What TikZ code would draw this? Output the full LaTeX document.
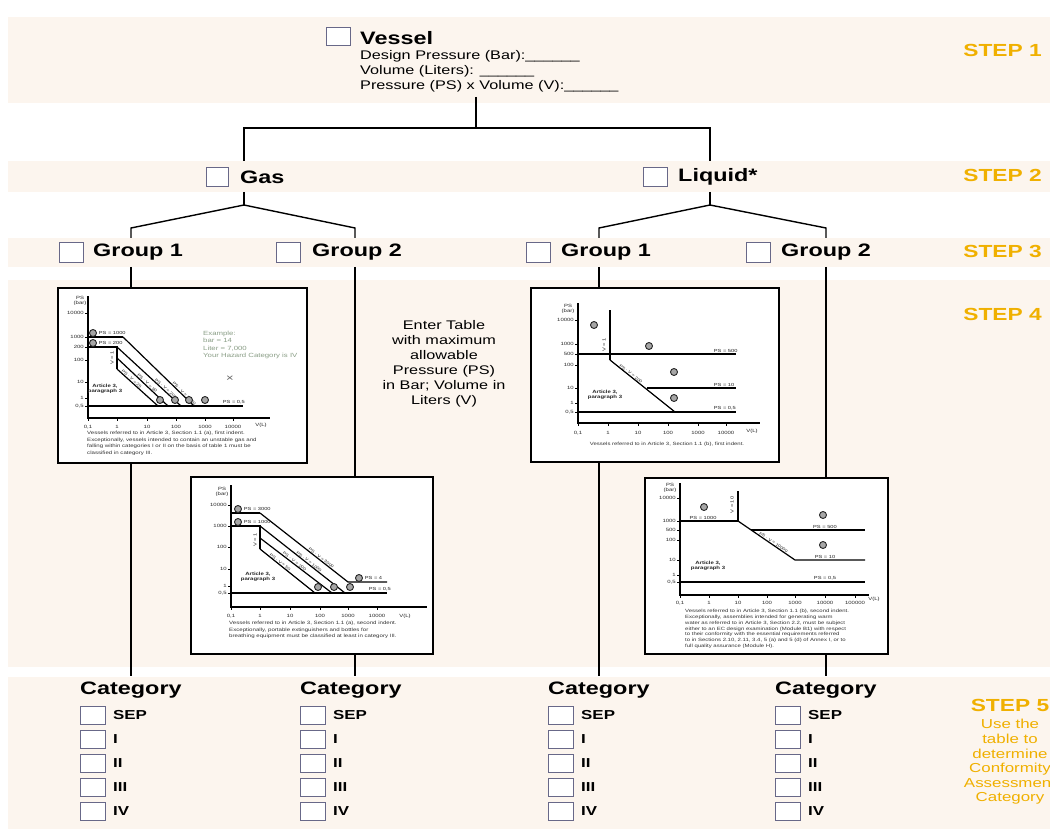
\documentclass[tikz,border=0pt]{standalone}
\usepackage{fontspec}
\setmainfont{Liberation Sans}[FakeStretch=1.3]
\definecolor{bandcol}{RGB}{252,245,238}
\definecolor{stepcol}{RGB}{240,176,0}
\definecolor{cbcol}{RGB}{104,104,136}
\definecolor{excol}{RGB}{138,158,134}
\newcommand\fsz[1]{\fontsize{#1}{#1}\selectfont}
\begin{document}
\begin{tikzpicture}[x=1pt,y=-1pt,
  cbox/.style={draw=cbcol, line width=0.8pt, fill=white, minimum width=24pt, minimum height=19pt, inner sep=0pt},
  catbox/.style={cbox, minimum width=25pt, minimum height=18pt},
  stepl/.style={text=stepcol, font=\bfseries\fsz{17.5}, anchor=east, inner sep=0pt},
  head/.style={font=\bfseries\fsz{18}, anchor=west, inner sep=0pt},
  info/.style={font=\fsz{12.5}, anchor=west, inner sep=0pt},
  catl/.style={font=\bfseries\fsz{13}, anchor=west, inner sep=0pt},
  stem/.style={line width=2.4pt},
  branch/.style={line width=1.4pt},
  chartbox/.style={draw, line width=2.4pt, fill=white, inner sep=0pt},
  axl/.style={line width=1.3pt},
  cl/.style={line width=1.2pt},
  tk/.style={font=\fsz{4.6}, inner sep=0pt, text=black!85},
  lab/.style={font=\fsz{4.4}, inner sep=0.6pt, text=black!85},
  dlab/.style={font=\fsz{3.8}, inner sep=0.4pt, text=black!85, sloped, above},
  art/.style={font=\bfseries\fontsize{4.6}{5.4}\selectfont, inner sep=0pt, align=center, text=black!85},
  captxt/.style={font=\fontsize{4.7}{6.6}\selectfont, inner sep=0pt, text=black!80, align=left, anchor=north west},
  mk/.style={circle, draw=black!85, line width=0.9pt, fill=black!35, minimum size=7pt, inner sep=0pt}]
\useasboundingbox (0,0) rectangle (1050,829);
\clip (0,0) rectangle (1050,829);
\fill[white] (0,0) rectangle (1050,829);
% bands
\fill[bandcol] (8,17) rectangle (1050,103);
\fill[bandcol] (8,161) rectangle (1050,192);
\fill[bandcol] (8,238) rectangle (1050,267);
\fill[bandcol] (8,280) rectangle (1050,667);
\fill[bandcol] (8,677) rectangle (1050,829);

% step labels
\node[stepl] (s1) at (1042,50) {STEP 1};
\node[stepl] (s2) at (1042,175) {STEP 2};
\node[stepl] (s3) at (1042,251) {STEP 3};
\node[stepl] (s4) at (1042,314) {STEP 4};
\node[stepl, anchor=center] (s5) at (1010,705) {STEP 5};
\node[font=\fontsize{13}{14.6}\selectfont, text=stepcol, align=center, inner sep=0pt] (s5t) at (1010,762)
  {Use the\\table to\\determine\\Conformity\\Assessment\\Category};

% step 1
\node[cbox, minimum height=18pt] (vcb) at (338,36) {};
\node[head] (vessel) at (360,38) {Vessel};
\node[info] (dp) at (360,56) {Design Pressure (Bar):\_\_\_\_\_\_};
\node[info] (vol) at (360,71) {Volume (Liters): \_\_\_\_\_\_};
\node[info] (psv) at (360,86) {Pressure (PS) x Volume (V):\_\_\_\_\_\_};

% coordinates of the tree
\coordinate (vs) at (476,97);
\coordinate (vj) at (476,128);
\coordinate (gtop) at (244,161);
\coordinate (gbot) at (244,192);
\coordinate (gj) at (244,205);
\coordinate (gd1) at (131,228);
\coordinate (g1top) at (131,238);
\coordinate (gd2) at (355,228);
\coordinate (g2top) at (355,238);
\coordinate (ltop) at (710,161);
\coordinate (lbot) at (710,192);
\coordinate (lj) at (710,205);
\coordinate (ld1) at (599,228);
\coordinate (l1top) at (599,238);
\coordinate (ld2) at (826,228);
\coordinate (l2top) at (826,238);
\coordinate (g1bot) at (131,267);
\coordinate (g2bot) at (355,267);
\coordinate (l1bot) at (599,267);
\coordinate (l2bot) at (826,267);
\coordinate (ca) at (131,676);
\coordinate (cb) at (355,676);
\coordinate (cc) at (599,676);
\coordinate (cd) at (826,676);

\draw[stem] (vs) -- (vj);
\draw[line width=2pt] (gtop) -- (gtop |- vj) -- (ltop |- vj) -- (ltop);
\draw[branch] (gbot) -- (gj);
\draw[branch] (g1top) -- (gd1) -- (gj) -- (gd2) -- (g2top);
\draw[branch] (lbot) -- (lj);
\draw[branch] (l1top) -- (ld1) -- (lj) -- (ld2) -- (l2top);

% step 2
\node[cbox, minimum width=22pt] (gascb) at (217,176.5) {};
\node[head] (gas) at (240,177) {Gas};
\node[cbox] (liqcb) at (655,176.5) {};
\node[head] (liquid) at (678,177) {Liquid*};

% step 3
\node[cbox, minimum height=20pt] (g1cb) at (71,252) {};
\node[head] (g1) at (93,252) {Group 1};
\node[cbox, minimum height=20pt] (g2cb) at (288.5,252) {};
\node[head] (g2) at (312,252) {Group 2};
\node[cbox, minimum height=20pt] (l1cb) at (538,252) {};
\node[head] (l1) at (561,252) {Group 1};
\node[cbox, minimum height=20pt] (l2cb) at (758,252) {};
\node[head] (l2) at (781,252) {Group 2};

% chart boxes (positions)
\path (182.5,375.5) node[minimum width=249pt, minimum height=175pt, inner sep=0pt] (chartA) {};
\path (312,565.5) node[minimum width=242pt, minimum height=177pt, inner sep=0pt] (chartB) {};
\path (655,375) node[minimum width=248pt, minimum height=174pt, inner sep=0pt] (chartC) {};
\path (766.5,566) node[minimum width=243pt, minimum height=176pt, inner sep=0pt] (chartD) {};

% stems
\draw[stem] (g1bot) -- (g1bot |- chartA.north);
\draw[stem] (g1bot |- chartA.south) -- (ca);
\draw[stem] (g2bot) -- (g2bot |- chartB.north);
\draw[stem] (g2bot |- chartB.south) -- (cb);
\draw[stem] (l1bot) -- (l1bot |- chartC.north);
\draw[stem] (l1bot |- chartC.south) -- (cc);
\draw[stem] (l2bot) -- (l2bot |- chartD.north);
\draw[stem] (l2bot |- chartD.south) -- (cd);

% boxes drawn
\draw[chartbox] (chartA.north west) rectangle (chartA.south east);
\draw[chartbox] (chartB.north west) rectangle (chartB.south east);
\draw[chartbox] (chartC.north west) rectangle (chartC.south east);
\draw[chartbox] (chartD.north west) rectangle (chartD.south east);

% middle text
\node[font=\fontsize{12.5}{15}\selectfont, align=center, inner sep=0pt] (enter) at (444,364)
  {Enter Table\\with maximum\\allowable\\Pressure (PS)\\in Bar; Volume in\\Liters (V)};

% ---------- chart A ----------
\draw[axl] (88,296) -- (88,418) -- (270,418);
\foreach \v/\y in {10000/313,1000/337,200/347,100/360,10/382,1/398,0{,}5/406}
  {\draw[line width=0.8pt] (85,\y) -- (88,\y); \node[tk, anchor=east] at (84,\y) {\v};}
\foreach \v/\x in {0{,}1/88,1/117,10/147,100/176,1000/205,10000/233}
  {\draw[line width=0.8pt] (\x,418) -- (\x,421); \node[tk] at (\x,427) {\v};}
\node[tk] (aV) at (261,425) {V(L)};
\node[tk, align=center] (aPS) at (80,301) {PS\\(bar)};
\draw[cl] (88,337) -- (123,337);
\draw[cl] (123,337) -- node[dlab, pos=0.84] {PS · V = 1000} (194,406);
\draw[cl] (88,347) -- (117,347) -- (117,369);
\draw[cl] (117,347) -- node[dlab, pos=0.74] {PS · V = 200} (181,406);
\draw[cl] (117,358) -- node[dlab, pos=0.56] {PS · V = 50} (168,406);
\draw[cl] (117,369) -- node[dlab, pos=0.32] {PS · V = 25} (158,406);
\draw[cl] (88,406) -- (243,406);
\node[mk] (am1) at (93,333) {};
\node[lab, anchor=west] (aps1) at (98,333) {PS = 1000};
\node[mk] (am2) at (93,343) {};
\node[lab, anchor=west] (aps2) at (98,343) {PS = 200};
\foreach \x in {160,175,189,205} \node[mk] at (\x,400) {};
\node[lab, anchor=south west] (aps3) at (222,405) {PS = 0,5};
\node[lab, rotate=90] (av1) at (112,358) {V = 1};
\node[art] (aart) at (105,389) {Article 3,\\paragraph 3};
\node[font=\fontsize{6}{7.4}\selectfont, text=excol, anchor=north west, align=left, inner sep=0pt] (aex) at (203,331)
  {Example:\\bar = 14\\Liter = 7,000\\Your Hazard Category is IV};
\node[font=\fsz{10}, text=black!60, inner sep=0pt] (axmark) at (230,379) {×};
\node[captxt] (acap) at (87,431) {Vessels referred to in Article 3, Section 1.1 (a), first indent.\\Exceptionally, vessels intended to contain an unstable gas and\\falling within categories I or II on the basis of table 1 must be\\classified in category III.};

% ---------- chart B ----------
\draw[axl] (231,485) -- (231,607) -- (427,607);
\foreach \v/\y in {10000/505,1000/526,100/547,10/569,1/586,0{,}5/593}
  {\draw[line width=0.8pt] (228,\y) -- (231,\y); \node[tk, anchor=east] at (227,\y) {\v};}
\foreach \v/\x in {0{,}1/231,1/260,10/290,100/320,1000/348,10000/377}
  {\draw[line width=0.8pt] (\x,607) -- (\x,610); \node[tk] at (\x,616) {\v};}
\node[tk] (bV) at (405,616) {V(L)};
\node[tk, align=center] (bPS) at (222,492) {PS\\(bar)};
\draw[cl] (231,513) -- (260,513);
\draw[cl] (260,513) -- node[dlab, pos=0.68] {PS · V = 3000} (348,582) -- (387,582);
\draw[cl] (231,526) -- (260,526) -- (260,549);
\draw[cl] (260,526) -- node[dlab, pos=0.56] {PS · V = 1000} (345,593);
\draw[cl] (260,538) -- node[dlab, pos=0.46] {PS · V = 200} (332,593);
\draw[cl] (260,549) -- node[dlab, pos=0.34] {PS · V = 50} (315,593);
\draw[cl] (231,593) -- (387,593);
\node[mk] (bm1) at (238,509) {};
\node[lab, anchor=west] (bps1) at (243,509) {PS = 3000};
\node[mk] (bm2) at (238,522) {};
\node[lab, anchor=west] (bps2) at (243,522) {PS = 1000};
\node[mk] (bm3) at (359,578) {};
\node[lab, anchor=west] (bps3) at (364,578) {PS = 4};
\node[lab, anchor=south west] (bps4) at (368,592) {PS = 0,5};
\foreach \x in {318,334,350} \node[mk] at (\x,587) {};
\node[lab, rotate=90] (bv1) at (255,540) {V = 1};
\node[art] (bart) at (258,577) {Article 3,\\paragraph 3};
\node[captxt] (bcap) at (229,621) {Vessels referred to in Article 3, Section 1.1 (a), second indent.\\Exceptionally, portable extinguishers and bottles for\\breathing equipment must be classified at least in category III.};

% ---------- chart C ----------
\draw[axl] (578,303) -- (578,423) -- (760,423);
\foreach \v/\y in {10000/320,1000/344,500/354,100/365,10/388,1/403,0{,}5/412}
  {\draw[line width=0.8pt] (575,\y) -- (578,\y); \node[tk, anchor=east] at (574,\y) {\v};}
\foreach \v/\x in {0{,}1/578,1/608,10/638,100/668,1000/698,10000/726}
  {\draw[line width=0.8pt] (\x,423) -- (\x,426); \node[tk] at (\x,433) {\v};}
\node[tk] (cV) at (752,431) {V(L)};
\node[tk, align=center] (cPS) at (568,309) {PS\\(bar)};
\draw[cl] (610,310) -- (610,360);
\draw[cl] (578,354) -- (736,354);
\draw[cl] (610,360) -- node[dlab, pos=0.3] {PS · V = 200} (675,412);
\draw[cl] (647,388) -- (736,388);
\draw[cl] (578,412) -- (736,412);
\node[lab, anchor=south west] (cps1) at (713,353) {PS = 500};
\node[lab, anchor=south west] (cps2) at (713,387) {PS = 10};
\node[lab, anchor=south west] (cps3) at (713,411) {PS = 0,5};
\node[lab, rotate=90] (cv1) at (604,345) {V = 1};
\node[mk] (cm1) at (594,325) {};
\node[mk] (cm2) at (649,346) {};
\node[mk] (cm3) at (674,372) {};
\node[mk] (cm4) at (674,398) {};
\node[art] (cart) at (605,395) {Article 3,\\paragraph 3};
\node[font=\fsz{4.6}, text=black!80, inner sep=0pt] (ccap) at (667,444) {Vessels referred to in Article 3, Section 1.1 (b), first indent.};

% ---------- chart D ----------
\draw[axl] (680,483) -- (680,595) -- (869,595);
\foreach \v/\y in {10000/498,1000/521,500/530,100/540,10/560,1/575,0{,}5/582}
  {\draw[line width=0.8pt] (677,\y) -- (680,\y); \node[tk, anchor=east] at (676,\y) {\v};}
\foreach \v/\x in {0{,}1/680,1/709,10/738,100/767,1000/795,10000/825,100000/855}
  {\draw[line width=0.8pt] (\x,595) -- (\x,598); \node[tk] at (\x,603) {\v};}
\node[tk] (dV) at (874,599) {V(L)};
\node[tk, align=center] (dPS) at (670,488) {PS\\(bar)};
\draw[cl] (680,521) -- (738,521);
\draw[cl] (738,491) -- (738,521);
\draw[cl] (738,521) -- node[dlab, pos=0.6] {PS · V = 10000} (795,560) -- (865,560);
\draw[cl] (751,530) -- (865,530);
\draw[cl] (680,582) -- (865,582);
\node[lab, anchor=south] (dps1) at (703,520) {PS = 1000};
\node[lab, anchor=south] (dps2) at (825,529) {PS = 500};
\node[lab, anchor=south] (dps3) at (825,559) {PS = 10};
\node[lab, anchor=south] (dps4) at (825,581) {PS = 0,5};
\node[lab, rotate=90] (dv1) at (732,505) {V = 10};
\node[mk] (dm1) at (704,507) {};
\node[mk] (dm2) at (823,515) {};
\node[mk] (dm3) at (823,545) {};
\node[art] (dart) at (708,566) {Article 3,\\paragraph 3};
\node[captxt, font=\fontsize{4.6}{5.85}\selectfont] (dcap) at (685,609) {Vessels referred to in Article 3, Section 1.1 (b), second indent.\\Exceptionally, assemblies intended for generating warm\\water as referred to in Article 3, Section 2.2, must be subject\\either to an EC design examination (Module B1) with respect\\to their conformity with the essential requirements referred\\to in Sections 2.10, 2.11, 3.4, 5 (a) and 5 (d) of Annex I, or to\\full quality assurance (Module H).};

% ---------- step 5 categories ----------
\foreach \c/\x in {A/80,B/300,C/548,D/775}{
  \node[head] (cat\c) at (\x,690) {Category};
  \foreach \r/\t/\y in {1/SEP/715,2/I/739,3/II/763,4/III/787,5/IV/811}{
    \node[catbox] (cb\c\r) at (\x+12.5,\y) {};
    \node[catl] (cl\c\r) at (\x+33,\y) {\t};
  }
}
\end{tikzpicture}
\end{document}
